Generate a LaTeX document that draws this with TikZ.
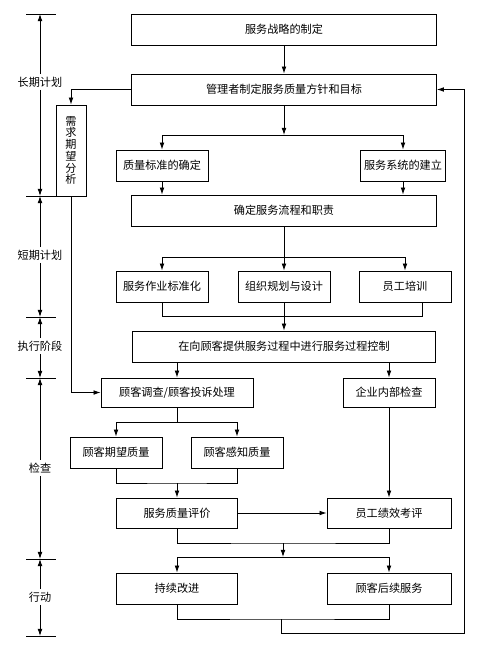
\documentclass[tikz,border=0pt]{standalone}
\usepackage{fontspec}
\newfontfamily\cjk{Noto Sans CJK SC}
\usetikzlibrary{arrows.meta}
\tikzset{
  box/.style={draw, font=\cjk\fontsize{9.5}{10}\selectfont, minimum height=0.93cm, inner sep=1pt},
  wd/.style={minimum width=#1*0.03cm},
  ht/.style={minimum height=#1*0.03cm},
  lbl/.style={font=\cjk\fontsize{9.5}{10}\selectfont, inner sep=2pt},
  >={Latex[length=6pt,width=4pt]}
}
\begin{document}
\begin{tikzpicture}[x=0.03cm,y=-0.03cm,line width=0.7pt]
\useasboundingbox (0,0) rectangle (499,645);

\node[box,wd=305]        (strat)    at (284,29.5)  {服务战略的制定};
\node[box,wd=305]        (goal)     at (284,89.5)  {管理者制定服务质量方针和目标};
\node[box,wd=30,ht=91,align=center,inner sep=0pt,
      font=\cjk\fontsize{9.5}{10}\selectfont] (demand) at (71,150.5) {需\\求\\期\\望\\分\\析};
\node[box,wd=92]         (std)      at (162,165.5) {质量标准的确定};
\node[box,wd=85]         (sys)      at (403,165.5) {服务系统的建立};
\node[box,wd=305]        (flow)     at (284,210.5) {确定服务流程和职责};
\node[box,wd=92]         (opstd)    at (162,286.5) {服务作业标准化};
\node[box,wd=92]         (org)      at (284,286.5) {组织规划与设计};
\node[box,wd=92]         (train)    at (405,286.5) {员工培训};
\node[box,wd=303]        (ctrl)     at (284,346.5) {在向顾客提供服务过程中进行服务过程控制};
\node[box,wd=152,ht=29]  (survey)   at (177,392.5) {顾客调查/顾客投诉处理};
\node[box,wd=92,ht=29]   (inner)    at (389,392.5) {企业内部检查};
\node[box,wd=92]         (expect)   at (116,452.5) {顾客期望质量};
\node[box,wd=92]         (perceive) at (237,452.5) {顾客感知质量};
\node[box,wd=121,ht=30]  (eval)     at (177,513)   {服务质量评价};
\node[box,wd=124,ht=30]  (staff)    at (389,513)   {员工绩效考评};
\node[box,wd=121]        (improve)  at (177,588.5) {持续改进};
\node[box,wd=124]        (after)    at (389,588.5) {顾客后续服务};

\coordinate (j1) at (284,135);
\draw[->] (strat) -- (goal);
\draw[->] (goal) -- (j1);
\draw[->] (j1) -| (std);
\draw[->] (j1) -| (sys);
\draw[->] (goal.west) -| (demand);
\draw[->] (demand) |- (survey);
\draw[->] (std) -- (std |- flow.north);
\draw[->] (sys) -- (sys |- flow.north);

\coordinate (j2) at (284,257);
\draw[->] (flow) -- (org);
\draw[->] (j2) -| (opstd);
\draw[->] (j2) -| (train);
\coordinate (j3) at (284,316);
\draw (opstd) |- (j3);
\draw (j3) -| ([xshift=0.51cm]train.south);
\draw[->] (org) -- (ctrl);
\draw[->] (ctrl.south -| survey) -- (survey);
\draw[->] (ctrl.south -| inner) -- (inner);

\coordinate (j4) at (177,422);
\draw (survey) -- (j4);
\draw[->] (j4) -| (expect);
\draw[->] (j4) -| (perceive);
\coordinate (j5) at (177,483);
\draw (expect) |- (j5) -| (perceive);
\draw[->] (j5) -- (eval);
\draw[->] (eval) -- (staff);
\draw[->] (inner) -- (staff);

\coordinate (j6) at (283,543);
\coordinate (j7) at (283,557);
\draw (eval) |- (j6) -| (staff);
\draw[->] (j6) -- (j7);
\draw[->] (j7) -| (improve);
\draw[->] (j7) -| (after);
\coordinate (j8) at (281,619);
\coordinate (j9) at (281,633);
\coordinate (ret) at (464,633);
\draw (improve) |- (j8) -| (after);
\draw (j8) -- (j9);
\draw[->] (j9) -- (ret) |- (goal);

\foreach \y [count=\i] in {14,196,317,378,559,636} {
  \draw (26,\y) -- (56,\y);
  \coordinate (t\i) at (40,\y);
}
\node[lbl] (long)  at (40,82)  {长期计划};
\node[lbl] (short) at (40,255) {短期计划};
\node[lbl] (exec)  at (40,346) {执行阶段};
\node[lbl] (check) at (40,468) {检查};
\node[lbl] (act)   at (40,597) {行动};
\draw[->] (long)  -- (t1);
\draw[->] (long)  -- (t2);
\draw[->] (short) -- (t2);
\draw[->] (short) -- (t3);
\draw[->] (exec)  -- (t3);
\draw[->] (exec)  -- (t4);
\draw[->] (check) -- (t4);
\draw[->] (check) -- (t5);
\draw[->] (act)   -- (t5);
\draw[->] (act)   -- (t6);
\end{tikzpicture}
\end{document}
